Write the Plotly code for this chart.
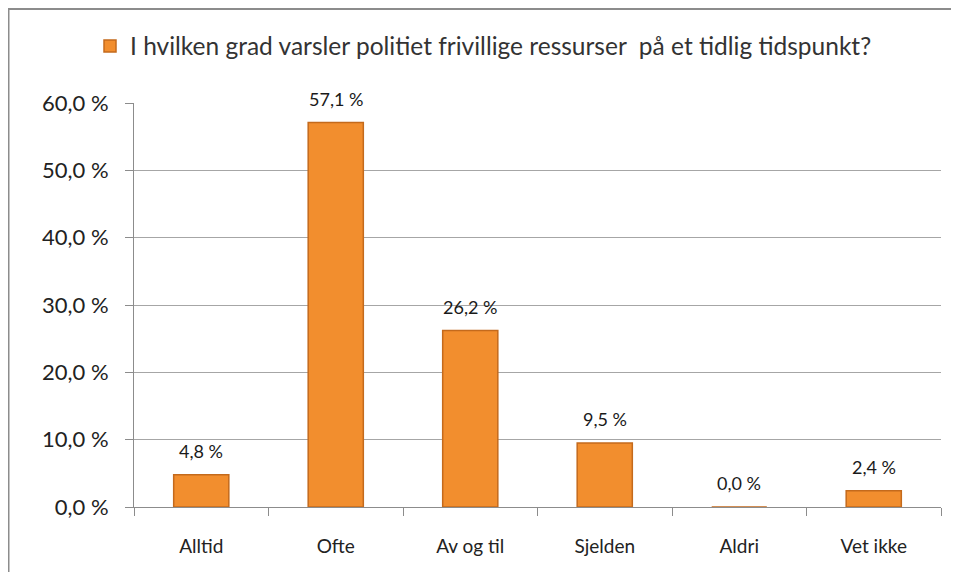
import plotly.graph_objects as go

categories = ["Alltid", "Ofte", "Av og til", "Sjelden", "Aldri", "Vet ikke"]
values = [4.8, 57.1, 26.2, 9.5, 0.0, 2.4]
value_labels = ["4,8 %", "57,1 %", "26,2 %", "9,5 %", "0,0 %", "2,4 %"]
y_tick_vals = [0, 10, 20, 30, 40, 50, 60]
y_tick_text = ["0,0 %", "10,0 %", "20,0 %", "30,0 %", "40,0 %", "50,0 %", "60,0 %"]
series_name = "I hvilken grad varsler politiet frivillige ressurser  på et tidlig tidspunkt?"

FONT = "Lato, 'Open Sans', sans-serif"

W, H = 944, 565
L, R, T, B = 126, 11, 95, 66
pw = W - L - R
ph = H - T - B


def px_x(x):
    return (x - L) / pw


def px_y(y):
    return (H - B - y) / ph


fig = go.Figure()
fig.add_trace(go.Bar(
    x=categories, y=values, name=series_name,
    marker=dict(color="#F28E2E", line=dict(color="#C46A1C", width=1.5)),
    width=0.41, showlegend=True,
))

for c, v, t in zip(categories, values, value_labels):
    fig.add_annotation(x=c, y=v, text=t, showarrow=False, yanchor="bottom",
                       yshift=11, font=dict(family=FONT, size=18, color="#1A1A1A"))

fig.add_shape(type="line", xref="paper", yref="paper",
              x0=px_x(0.5), x1=px_x(0.5), y0=px_y(H - 1), y1=px_y(1),
              line=dict(color="#8C8C8C", width=2), layer="below")
fig.add_shape(type="line", xref="paper", yref="paper",
              x0=px_x(0), x1=px_x(W - 1), y0=px_y(1), y1=px_y(1),
              line=dict(color="#8C8C8C", width=2), layer="below")

fig.update_layout(
    width=W, height=H,
    margin=dict(l=L, r=R, t=T, b=B),
    paper_bgcolor="white", plot_bgcolor="white",
    font=dict(family=FONT, color="#222222"),
    showlegend=True,
    legend=dict(x=px_x(82), y=px_y(38), xanchor="left", yanchor="middle",
                orientation="h", font=dict(family=FONT, size=24.5, color="#333333"),
                itemwidth=30, bgcolor="rgba(0,0,0,0)"),
)
fig.update_yaxes(range=[0, 60], tickvals=y_tick_vals, ticktext=y_tick_text,
                 showgrid=True, gridcolor="#A6A6A6", gridwidth=1,
                 showline=True, linecolor="#8C8C8C", linewidth=1,
                 ticks="outside", ticklen=8, tickcolor="#8C8C8C",
                 tickfont=dict(family=FONT, size=22, color="#222222"),
                 ticklabelstandoff=12, zeroline=False, fixedrange=True)
fig.update_xaxes(showline=True, linecolor="#8C8C8C", linewidth=1,
                 ticks="outside", ticklen=8, tickcolor="#8C8C8C", tickson="boundaries",
                 tickfont=dict(family=FONT, size=19, color="#222222"),
                 ticklabelstandoff=22, fixedrange=True)

fig.write_html("out.html")
